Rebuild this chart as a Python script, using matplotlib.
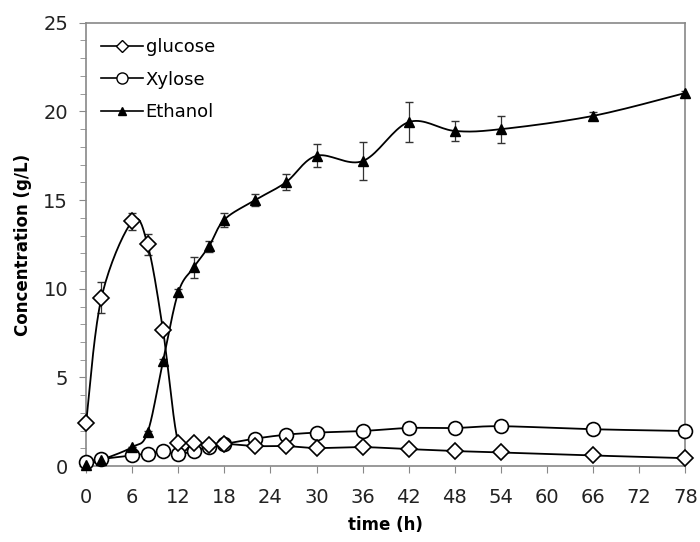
import matplotlib.pyplot as plt
import numpy as np
from matplotlib.ticker import MultipleLocator

# time points (h)
t_glu = [0, 2, 6, 8, 10, 12, 14, 16, 18, 22, 26, 30, 36, 42, 48, 54, 66, 78]
glucose = [2.45, 9.5, 13.8, 12.5, 7.7, 1.3, 1.3, 1.2, 1.26, 1.13, 1.13, 1.02,
           1.07, 0.96, 0.85, 0.77, 0.6, 0.45]
glucose_err = [0, 0.87, 0.47, 0.58, 0, 0, 0, 0, 0, 0, 0, 0,
               0, 0, 0, 0, 0, 0]

t_xyl = [0, 2, 6, 8, 10, 12, 14, 16, 18, 22, 26, 30, 36, 42, 48, 54, 66, 78]
xylose = [0.26, 0.4, 0.6, 0.7, 0.83, 0.66, 0.87, 1.1, 1.25, 1.55, 1.77, 1.89,
          1.98, 2.15, 2.15, 2.25, 2.08, 1.98]

t_eth = [0, 2, 6, 8, 10, 12, 14, 16, 18, 22, 26, 30, 36, 42, 48, 54, 66, 78]
ethanol = [0.05, 0.35, 1.07, 1.9, 5.9, 9.8, 11.2, 12.4, 13.9, 15.0, 16.0, 17.5,
           17.2, 19.4, 18.9, 19.0, 19.75, 21.04]
ethanol_err = [0, 0, 0, 0.1, 0.15, 0.2, 0.57, 0.3, 0.4, 0.33, 0.45, 0.64,
               1.07, 1.13, 0.58, 0.76, 0.2, 0.1]

xticks = list(range(0, 79, 6))


def smooth(x, y, n=20):
    # excel-style smoothed line (bezier through points, catmull-rom control)
    x = np.asarray(x, float)
    y = np.asarray(y, float)
    px, py = [], []
    for i in range(len(x) - 1):
        x0, y0 = (x[i - 1], y[i - 1]) if i > 0 else (x[i], y[i])
        x3, y3 = (x[i + 2], y[i + 2]) if i + 2 < len(x) else (x[i + 1], y[i + 1])
        c1x = x[i] + (x[i + 1] - x0) / 6
        c1y = y[i] + (y[i + 1] - y0) / 6
        c2x = x[i + 1] - (x3 - x[i]) / 6
        c2y = y[i + 1] - (y3 - y[i]) / 6
        s = np.linspace(0, 1, n)
        bx = (1 - s) ** 3 * x[i] + 3 * (1 - s) ** 2 * s * c1x + 3 * (1 - s) * s ** 2 * c2x + s ** 3 * x[i + 1]
        by = (1 - s) ** 3 * y[i] + 3 * (1 - s) ** 2 * s * c1y + 3 * (1 - s) * s ** 2 * c2y + s ** 3 * y[i + 1]
        px.extend(bx)
        py.extend(by)
    return px, py


fig = plt.figure(figsize=(7, 5.42), dpi=100)
ax = fig.add_axes([0.123, 0.140, 0.856, 0.818])

ax.errorbar(t_glu, glucose, yerr=glucose_err, fmt='none', ecolor='#333333',
            elinewidth=0.9, capsize=3, zorder=2)
ax.errorbar(t_eth, ethanol, yerr=ethanol_err, fmt='none', ecolor='#333333',
            elinewidth=0.9, capsize=3, zorder=2)

sx, sy = smooth(t_glu, glucose)
ax.plot(sx, sy, color='black', lw=1.3, zorder=3)
sx, sy = smooth(t_xyl, xylose)
ax.plot(sx, sy, color='black', lw=1.3, zorder=3)
sx, sy = smooth(t_eth, ethanol)
ax.plot(sx, sy, color='black', lw=1.3, zorder=3)

ax.plot(t_xyl, xylose, 'o', ms=10, mfc='white', mec='black', mew=1.2, zorder=4, clip_on=False)
ax.plot(t_glu, glucose, 'D', ms=8, mfc='white', mec='black', mew=1.2, zorder=5, clip_on=False)
ax.plot(t_eth, ethanol, '^', ms=7, mfc='black', mec='black', zorder=6, clip_on=False)

# legend handles
ax.plot([], [], '-D', color='black', ms=6, mfc='white', mew=1, lw=1.2, label='glucose')
ax.plot([], [], '-o', color='black', ms=8, mfc='white', mew=1, lw=1.2, label='Xylose')
ax.plot([], [], '-^', color='black', ms=6, mfc='black', lw=1.2, label='Ethanol')
ax.legend(loc='upper left', frameon=False, fontsize=13, handlelength=2.3,
          handletextpad=0.15, labelspacing=0.8, borderaxespad=0.45,
          bbox_to_anchor=(0.0, 1.0))

ax.set_xlim(0, 78)
ax.set_ylim(0, 25)
ax.set_xticks(xticks)
ax.yaxis.set_major_locator(MultipleLocator(5))
ax.yaxis.set_minor_locator(MultipleLocator(1))
ax.tick_params(axis='both', which='major', labelsize=14, direction='out',
               length=5, color='#888888', labelcolor='#222222')
ax.tick_params(axis='x', which='major', pad=11)
ax.tick_params(axis='y', which='major', pad=8)
ax.tick_params(axis='y', which='minor', direction='out', length=4, color='#888888')
for s in ax.spines.values():
    s.set_color('#888888')
    s.set_linewidth(1.2)

ax.set_xlabel('time (h)', fontsize=12, fontweight='bold', labelpad=6)
ax.set_ylabel('Concentration (g/L)', fontsize=12, fontweight='bold', labelpad=8)

fig.savefig('out.png', dpi=100)
